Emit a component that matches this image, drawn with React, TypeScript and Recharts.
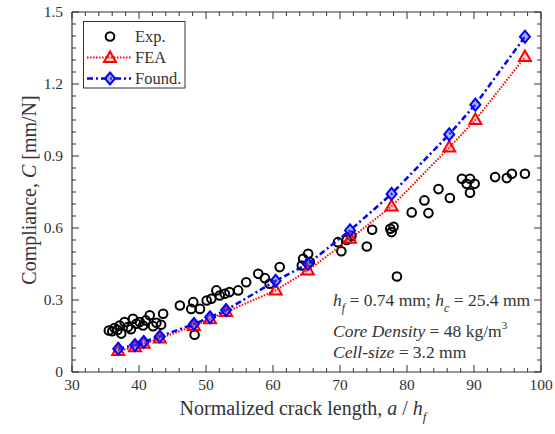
import React from "react";
import { ScatterChart, Scatter, XAxis, YAxis } from "recharts";

// crack length positions of the model curves (a / h_f)
const modelX = [36.9, 39.4, 40.7, 43.1, 48.2, 50.6, 53.0, 60.4, 65.2, 71.5, 77.7, 86.3, 90.2, 97.6];
const feaY = [0.088, 0.103, 0.118, 0.14, 0.192, 0.22, 0.25, 0.34, 0.423, 0.555, 0.69, 0.935, 1.05, 1.312];
const foundY = [0.097, 0.112, 0.125, 0.148, 0.2, 0.228, 0.258, 0.38, 0.45, 0.59, 0.742, 0.99, 1.114, 1.397];

// experimental points [a/h_f, C]
const expPoints: [number, number][] = [
  [35.5, 0.173], [36.0, 0.17], [36.35, 0.183], [36.8, 0.175], [37.1, 0.194], [37.35, 0.16],
  [37.85, 0.208], [38.35, 0.187], [38.8, 0.178], [39.1, 0.222], [39.6, 0.201], [40.1, 0.208],
  [40.6, 0.194], [41.0, 0.215], [41.6, 0.236], [42.1, 0.191], [42.6, 0.205], [43.3, 0.197],
  [43.6, 0.243], [46.1, 0.277], [47.8, 0.263], [48.1, 0.291], [48.3, 0.155], [49.1, 0.263],
  [50.1, 0.298], [50.8, 0.305], [51.55, 0.34], [52.05, 0.319], [52.8, 0.326], [53.5, 0.333],
  [54.8, 0.34], [56.0, 0.374], [57.8, 0.409], [58.8, 0.391], [59.5, 0.368], [61.0, 0.437],
  [64.3, 0.444], [64.5, 0.472], [65.25, 0.493], [65.5, 0.458], [69.7, 0.541], [70.2, 0.503],
  [71.0, 0.55], [71.7, 0.567], [74.0, 0.523], [74.8, 0.593], [77.5, 0.597], [77.7, 0.583],
  [78.0, 0.605], [78.5, 0.398], [80.7, 0.665], [82.6, 0.715], [83.2, 0.662], [84.7, 0.762],
  [86.4, 0.725], [88.2, 0.805], [88.9, 0.784], [89.4, 0.805], [89.4, 0.747], [90.1, 0.784],
  [93.15, 0.812], [94.9, 0.808], [95.65, 0.826], [97.6, 0.826],
];

const xMajor = [30, 40, 50, 60, 70, 80, 90, 100];
const yMajor = [0, 0.3, 0.6, 0.9, 1.2, 1.5];

const xTicks = Array.from({ length: 36 }, (_, i) => 30 + i * 2);
const yTicks = Array.from({ length: 31 }, (_, i) => Math.round(i * 5) / 100);

const W = 555;
const H = 434;
const FONT = "'Liberation Serif', 'Times New Roman', serif";
const INK = "#333";

const expData = expPoints.map(([x, y]) => ({ x, y }));
const feaData = modelX.map((x, i) => ({ x, y: feaY[i] }));
const foundData = modelX.map((x, i) => ({ x, y: foundY[i] }));

const isMajorX = (v: number) => xMajor.includes(v);
const isMajorY = (v: number) => yMajor.some((m) => Math.abs(m - v) < 1e-6);

function Circle({ cx, cy }: any) {
  return <circle cx={cx} cy={cy} r={4.3} fill="none" stroke="#000" strokeWidth={2} />;
}

function Triangle({ cx, cy }: any) {
  return (
    <polygon
      points={`${cx},${cy - 6.5} ${cx - 6},${cy + 4} ${cx + 6},${cy + 4}`}
      fill="rgba(255,80,80,0.25)"
      stroke="#ff0000"
      strokeWidth={2}
    />
  );
}

function Diamond({ cx, cy }: any) {
  return (
    <polygon
      points={`${cx},${cy - 6} ${cx + 5},${cy} ${cx},${cy + 6} ${cx - 5},${cy}`}
      fill="rgba(60,80,255,0.45)"
      stroke="#0000ff"
      strokeWidth={2}
    />
  );
}

const renderBottomTick = ({ x, y, payload }: any) => {
  const major = isMajorX(payload.value);
  return (
    <g>
      <line x1={x} y1={y} x2={x} y2={y - (major ? 7 : 4)} stroke={INK} />
      {major && (
        <text x={x} y={y + 18} textAnchor="middle" fontSize={15.5} fontFamily={FONT} fill={INK}>
          {payload.value}
        </text>
      )}
    </g>
  );
};

const renderTopTick = ({ x, y, payload }: any) => {
  const major = isMajorX(payload.value);
  return <line x1={x} y1={y} x2={x} y2={y + (major ? 7 : 4)} stroke={INK} />;
};

const renderLeftTick = ({ x, y, payload }: any) => {
  const major = isMajorY(payload.value);
  return (
    <g>
      <line x1={x} y1={y} x2={x + (major ? 7 : 4)} y2={y} stroke={INK} />
      {major && (
        <text x={x - 9} y={y + 5} textAnchor="end" fontSize={15.5} fontFamily={FONT} fill={INK}>
          {payload.value === 0 ? "0" : payload.value.toFixed(1)}
        </text>
      )}
    </g>
  );
};

const renderRightTick = ({ x, y, payload }: any) => {
  const major = isMajorY(payload.value);
  return <line x1={x} y1={y} x2={x - (major ? 7 : 4)} y2={y} stroke={INK} />;
};

function Overlay() {
  const t = { fontFamily: FONT, fill: INK };
  return (
    <svg width={W} height={H} style={{ position: "absolute", left: 0, top: 0, pointerEvents: "none" }}>
      {/* legend */}
      <rect x={83.5} y={21.5} width={101.5} height={66.5} fill="#fff" stroke={INK} strokeWidth={1} />
      <Circle cx={110} cy={36.5} />
      <text x={135} y={42} fontSize={16.5} {...t}>Exp.</text>
      <line x1={87} y1={57.5} x2={131} y2={57.5} stroke="#ff0000" strokeWidth={2} strokeDasharray="1.5 1.5" />
      <Triangle cx={110} cy={58} />
      <text x={135} y={63} fontSize={16.5} {...t}>FEA</text>
      <line x1={87} y1={78.5} x2={131} y2={78.5} stroke="#0000ff" strokeWidth={2.5} strokeDasharray="6 3 2 3" />
      <Diamond cx={110} cy={78.5} />
      <text x={135} y={84} fontSize={16.5} {...t}>Found.</text>

      {/* annotation */}
      <text x={333} y={306} fontSize={17.5} {...t}>
        <tspan fontStyle="italic">h</tspan>
        <tspan fontStyle="italic" fontSize={12} dy={6}>f</tspan>
        <tspan dy={-6}> = 0.74 mm; </tspan>
        <tspan fontStyle="italic">h</tspan>
        <tspan fontStyle="italic" fontSize={12} dy={6}>c</tspan>
        <tspan dy={-6}> = 25.4 mm</tspan>
      </text>
      <text x={333} y={337} fontSize={17.5} {...t}>
        <tspan fontStyle="italic">Core Density</tspan>
        <tspan> = 48 kg/m</tspan>
        <tspan fontSize={11} dy={-8}>3</tspan>
      </text>
      <text x={333} y={358} fontSize={17.5} {...t}>
        <tspan fontStyle="italic">Cell-size</tspan>
        <tspan> = 3.2 mm</tspan>
      </text>

      {/* axis titles */}
      <text x={303} y={415} textAnchor="middle" fontSize={20} {...t}>
        <tspan>Normalized crack length, </tspan>
        <tspan fontStyle="italic">a</tspan>
        <tspan> / </tspan>
        <tspan fontStyle="italic">h</tspan>
        <tspan fontStyle="italic" fontSize={13} dy={6}>f</tspan>
      </text>
      <text
        x={29}
        y={190}
        textAnchor="middle"
        fontSize={20}
        transform="rotate(-90 29 190)"
        dominantBaseline="central"
        {...t}
      >
        <tspan>Compliance, </tspan>
        <tspan fontStyle="italic">C</tspan>
        <tspan> [mm/N]</tspan>
      </text>
    </svg>
  );
}

const axisLine = { stroke: INK, strokeWidth: 1.2 };

export default function App() {
  return (
    <div style={{ position: "absolute", left: 0, top: 0, width: W, height: H, background: "#fff" }}>
      <ScatterChart width={W} height={H} margin={{ top: 11, right: 13, bottom: 61, left: 71 }}>
        <XAxis
          xAxisId="bottom"
          orientation="bottom"
          type="number"
          dataKey="x"
          domain={[30, 100]}
          ticks={xTicks}
          interval={0}
          height={1}
          tickSize={0}
          tickMargin={0}
          tick={renderBottomTick}
          axisLine={axisLine}
          allowDataOverflow
        />
        <XAxis
          xAxisId="top"
          orientation="top"
          type="number"
          dataKey="x"
          domain={[30, 100]}
          ticks={xTicks}
          interval={0}
          height={1}
          tickSize={0}
          tickMargin={0}
          tick={renderTopTick}
          axisLine={axisLine}
          allowDataOverflow
        />
        <YAxis
          yAxisId="left"
          orientation="left"
          type="number"
          dataKey="y"
          domain={[0, 1.5]}
          ticks={yTicks}
          interval={0}
          width={1}
          tickSize={0}
          tickMargin={0}
          tick={renderLeftTick}
          axisLine={axisLine}
          allowDataOverflow
        />
        <YAxis
          yAxisId="right"
          orientation="right"
          type="number"
          dataKey="y"
          domain={[0, 1.5]}
          ticks={yTicks}
          interval={0}
          width={1}
          tickSize={0}
          tickMargin={0}
          tick={renderRightTick}
          axisLine={axisLine}
          allowDataOverflow
        />
        <Scatter xAxisId="bottom" yAxisId="left" name="Exp." data={expData} shape={Circle} isAnimationActive={false} />
        <Scatter
          xAxisId="bottom"
          yAxisId="left"
          name="FEA"
          data={feaData}
          shape={Triangle}
          line={{ stroke: "#ff0000", strokeWidth: 2, strokeDasharray: "1.5 1.5" }}
          lineType="joint"
          isAnimationActive={false}
        />
        <Scatter
          xAxisId="top"
          yAxisId="right"
          name="Found."
          data={foundData}
          shape={Diamond}
          line={{ stroke: "#0000ff", strokeWidth: 2.5, strokeDasharray: "6 3 2 3" }}
          lineType="joint"
          isAnimationActive={false}
        />
      </ScatterChart>
      <Overlay />
    </div>
  );
}
